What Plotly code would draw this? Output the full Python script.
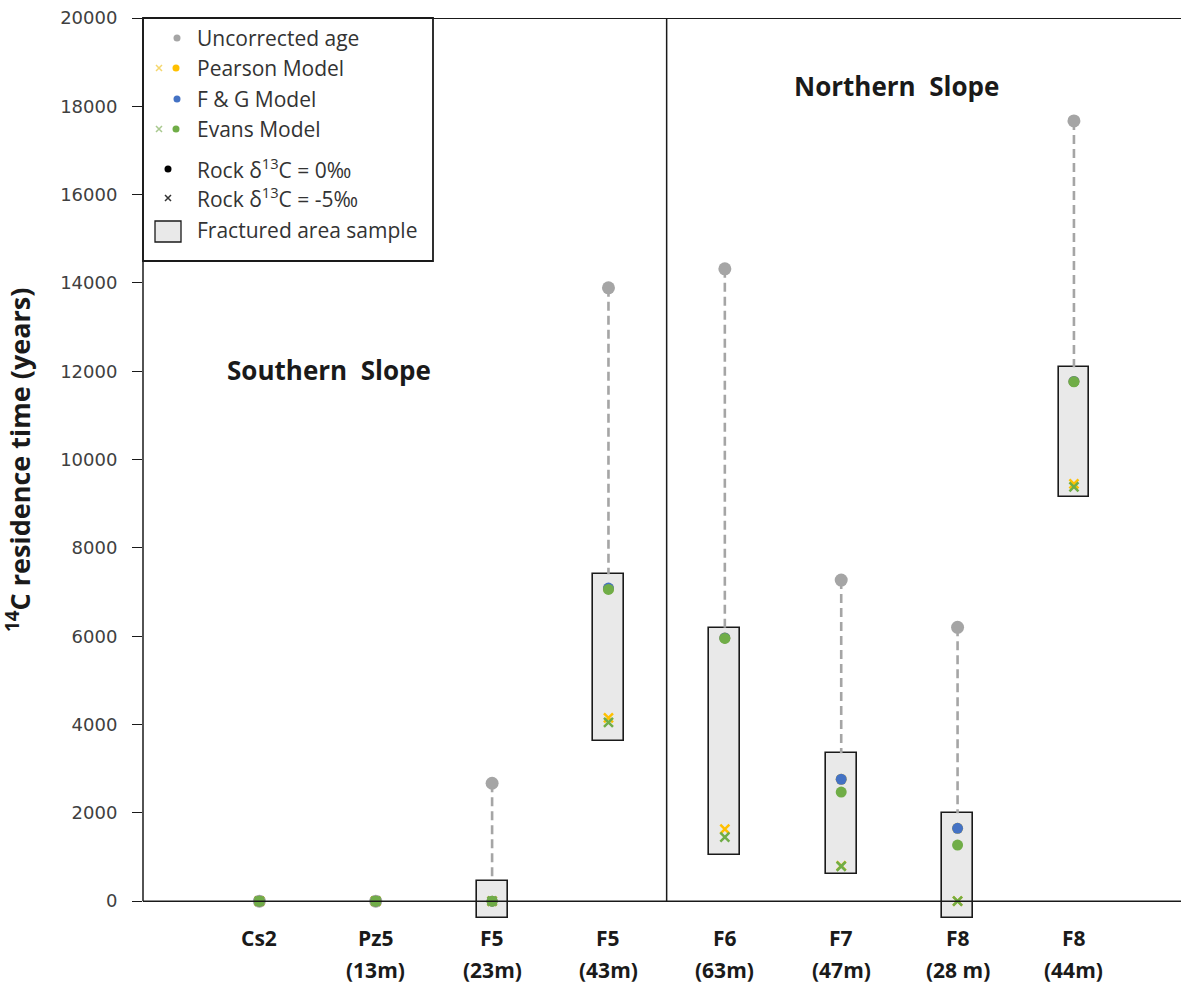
import plotly.graph_objects as go

# ---------------- data ----------------
cat_names = ["Cs2", "Pz5", "F5", "F5", "F6", "F7", "F8", "F8"]
cat_depths = ["", "(13m)", "(23m)", "(43m)", "(63m)", "(47m)", "(28 m)", "(44m)"]
x_pos = [0, 1, 2, 3, 4, 5, 6, 7]

uncorrected = [0, 0, 2670, 13890, 14320, 7270, 6200, 17670]
pearson_0 = [0, 0, 0, 7080, 5960, 2760, 1650, 11770]
fg_0 = [0, 0, 0, 7090, 5960, 2760, 1650, 11770]
evans_0 = [0, 0, 0, 7060, 5950, 2470, 1270, 11760]
pearson_5 = [0, 0, 0, 4150, 1630, 800, 0, 9450]
evans_5 = [0, 0, 0, 4050, 1450, 790, 0, 9380]

box_lo = [None, None, -390, 3630, 1040, 610, -390, 9150]
box_hi = [None, None, 450, 7400, 6190, 3350, 1990, 12090]

y_ticks = [0, 2000, 4000, 6000, 8000, 10000, 12000, 14000, 16000, 18000, 20000]
y_ticktext = [str(v) for v in y_ticks]

GRAY = "#A5A5A5"
YEL = "#FFC000"
BLUE = "#4472C4"
GREEN = "#70AD47"
BOXFILL = "#E9E9E9"
FONT = "Open Sans"

W, H = 1181, 986
L, R, T, B = 143, 1181, 18, 921
YMIN, YMAX = -450, 20000
XMIN, XMAX = -1.0, 7.92


def px(xp):
    return (xp - L) / (R - L)


def py(yp):
    return (B - yp) / (B - T)


fig = go.Figure()

# fractured area boxes
bx = [x for x, lo in zip(x_pos, box_lo) if lo is not None]
blo = [lo for lo in box_lo if lo is not None]
bhi = [hi for hi in box_hi if hi is not None]
fig.add_trace(go.Bar(
    x=bx, y=[h - l for h, l in zip(bhi, blo)], base=blo, width=0.265,
    marker=dict(color=BOXFILL, line=dict(color="#1a1a1a", width=1.6)),
    showlegend=False, hoverinfo="skip"))

# dashed lines from uncorrected age down to box top
dx, dy = [], []
for x, u, hi in zip(x_pos, uncorrected, box_hi):
    if hi is not None:
        dx += [x, x, None]
        dy += [u, hi, None]
fig.add_trace(go.Scatter(x=dx, y=dy, mode="lines",
                         line=dict(color=GRAY, width=2.6, dash="9px,5px"),
                         showlegend=False, hoverinfo="skip"))


def add_pts(vals, color, symbol, size):
    if symbol.startswith("x"):
        mk = dict(color=color, symbol=symbol, size=size, line=dict(color=color, width=2.5))
    else:
        mk = dict(color=color, symbol=symbol, size=size, line=dict(width=0))
    fig.add_trace(go.Scatter(x=x_pos, y=vals, mode="markers", marker=mk,
                             showlegend=False))


add_pts(uncorrected, GRAY, "circle", 13)
add_pts(pearson_5, YEL, "x-thin", 9)
add_pts(evans_5, GREEN, "x-thin", 9)
add_pts(pearson_0, YEL, "circle", 11)
add_pts(fg_0, BLUE, "circle", 11)
add_pts(evans_0, GREEN, "circle", 11)

shapes = []
# legend box (below traces so its glyphs show)
shapes.append(dict(type="rect", xref="paper", yref="paper",
                   x0=px(143), x1=px(433), y0=py(261), y1=py(18),
                   fillcolor="white", line=dict(color="#1a1a1a", width=1.8), layer="below"))
shapes.append(dict(type="rect", xref="paper", yref="paper",
                   x0=px(155), x1=px(181), y0=py(242), y1=py(221),
                   fillcolor=BOXFILL, line=dict(color="#1a1a1a", width=1.3)))
# axis frame lines
shapes.append(dict(type="line", xref="paper", yref="y", x0=0, x1=1, y0=0, y1=0,
                   line=dict(color="#1a1a1a", width=1.5)))
shapes.append(dict(type="line", xref="paper", yref="y", x0=0, x1=1, y0=YMAX, y1=YMAX,
                   line=dict(color="#1a1a1a", width=1.8)))
shapes.append(dict(type="line", xref="paper", yref="y", x0=0, x1=0, y0=0, y1=YMAX,
                   line=dict(color="#1a1a1a", width=1.5)))
shapes.append(dict(type="line", xref="x", yref="y", x0=3.5, x1=3.5, y0=0, y1=YMAX,
                   line=dict(color="#1a1a1a", width=1.5)))
fig.update_layout(shapes=shapes)

# legend glyphs on overlay axis (paper-like coordinates)
leg_sym = [
    (177, 38, GRAY, "circle"), (159, 68, "#F5D76E", "x-thin"), (176, 68, YEL, "circle"),
    (177, 99, BLUE, "circle"), (159, 129, "#A9C98F", "x-thin"), (176, 129, GREEN, "circle"),
    (168, 169, "black", "circle"), (168, 198, "#333333", "x-thin"),
]
for xp, yp, c, s in leg_sym:
    fig.add_trace(go.Scatter(
        x=[px(xp)], y=[py(yp)], xaxis="x2", yaxis="y2", mode="markers",
        marker=dict(color=c, symbol=s, size=7 if s == "circle" else 6,
                    line=dict(color=c, width=1.5 if s != "circle" else 0)),
        showlegend=False, hoverinfo="skip"))

ann = []
leg_text = [
    (38, "Uncorrected age"), (68, "Pearson Model"), (99, "F & G Model"),
    (129, "Evans Model"), (169, "Rock δ<sup>13</sup>C = 0‰"),
    (198, "Rock δ<sup>13</sup>C = -5‰"), (230, "Fractured area sample"),
]
for yp, t in leg_text:
    ann.append(dict(xref="paper", yref="paper", x=px(195), y=py(yp), text=t,
                    showarrow=False, xanchor="left", yanchor="middle",
                    font=dict(family=FONT, size=21, color="#333333")))

for x, n, d in zip(x_pos, cat_names, cat_depths):
    ann.append(dict(xref="x", yref="paper", x=x, y=py(938), text=f"<b>{n}</b>",
                    showarrow=False, xanchor="center", yanchor="middle",
                    font=dict(family=FONT, size=21, color="#1a1a1a")))
    if d:
        ann.append(dict(xref="x", yref="paper", x=x, y=py(970), text=f"<b>{d}</b>",
                        showarrow=False, xanchor="center", yanchor="middle",
                        font=dict(family=FONT, size=21, color="#1a1a1a")))

ann.append(dict(xref="paper", yref="paper", x=px(329), y=py(370),
                text="<b>Southern  Slope</b>", showarrow=False,
                xanchor="center", yanchor="middle",
                font=dict(family=FONT, size=26, color="#1a1a1a")))
ann.append(dict(xref="paper", yref="paper", x=px(896), y=py(86),
                text="<b>Northern  Slope</b>", showarrow=False,
                xanchor="center", yanchor="middle",
                font=dict(family=FONT, size=26, color="#1a1a1a")))
ann.append(dict(xref="paper", yref="paper", x=px(19), y=py(460),
                text="<b><sup>14</sup>C residence time (years)</b>", showarrow=False,
                textangle=-90, xanchor="center", yanchor="middle",
                font=dict(family=FONT, size=27, color="#1a1a1a")))
fig.update_layout(annotations=ann)

fig.update_layout(
    width=W, height=H,
    margin=dict(l=L, r=W - R, t=T, b=H - B, pad=0),
    paper_bgcolor="white", plot_bgcolor="white",
    font=dict(family=FONT),
    bargap=0,
    xaxis=dict(range=[XMIN, XMAX], showgrid=False, zeroline=False, showline=False,
               showticklabels=False, ticks=""),
    yaxis=dict(range=[YMIN, YMAX], tickvals=y_ticks, ticktext=y_ticktext,
               showgrid=False, zeroline=False,
               showline=False, ticks="outside", ticklen=10, tickwidth=1.3,
               tickcolor="#1a1a1a", ticklabelstandoff=11,
               tickfont=dict(family="DejaVu Sans", size=18, color="#404040")),
    xaxis2=dict(range=[0, 1], overlaying="x", visible=False, fixedrange=True),
    yaxis2=dict(range=[0, 1], overlaying="y", visible=False, fixedrange=True),
)

fig.write_html("out.html", config={"displayModeBar": False},
               post_script="document.body.style.margin='0px';")
